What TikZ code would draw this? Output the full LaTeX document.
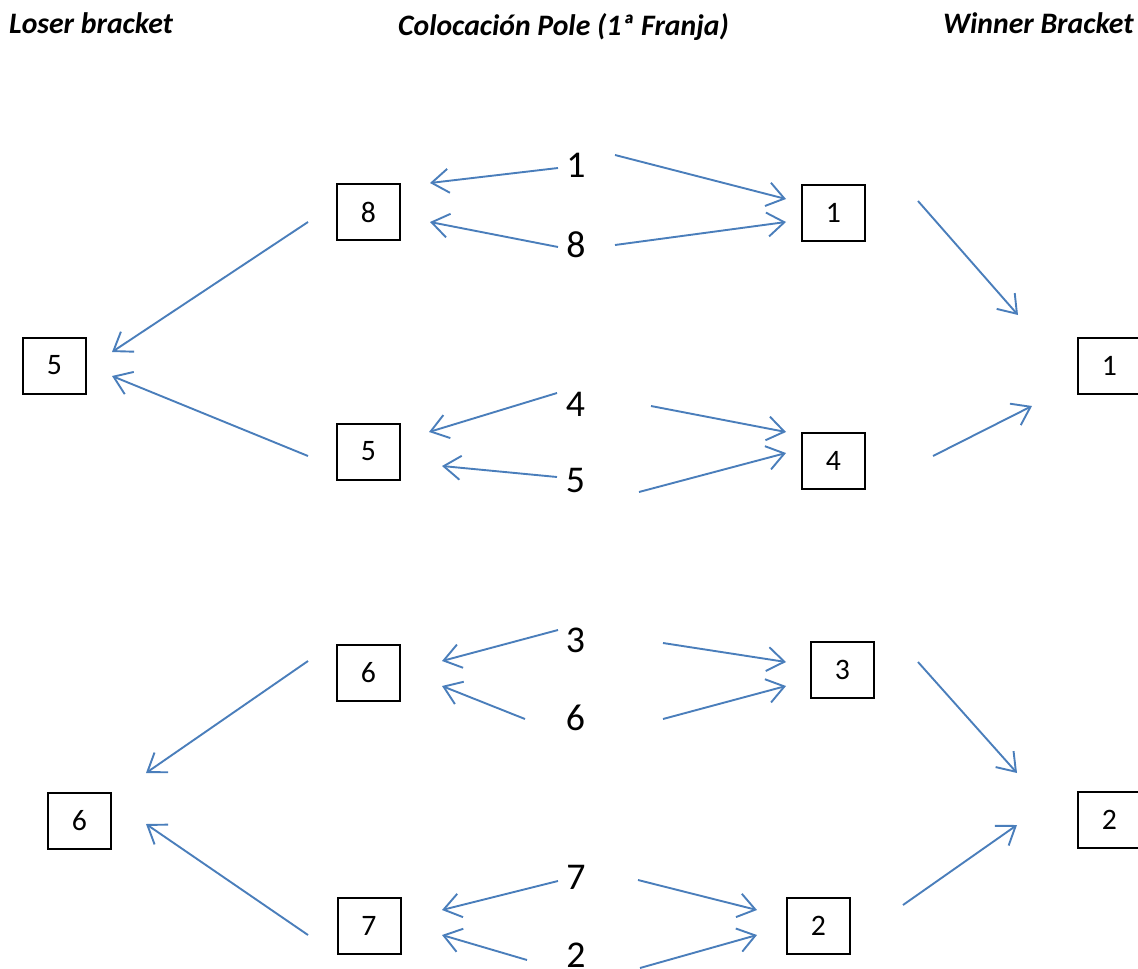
\documentclass[tikz,border=0pt]{standalone}
\usepackage{fontspec}
\setmainfont{Carlito}
\usetikzlibrary{arrows.meta}
\definecolor{arrowblue}{HTML}{4A7EBB}
\begin{document}
\begin{tikzpicture}[x=1pt,y=-1pt,
  title/.style={anchor=base west,inner sep=0,font=\fontsize{29.7}{34}\selectfont\bfseries\itshape},
  numbox/.style={draw=black,line width=2pt,minimum width=63pt,minimum height=56pt,inner sep=0,font=\fontsize{29.7}{34}\selectfont},
  freenum/.style={inner sep=0,font=\fontsize{37.8}{44}\selectfont},
  arr/.style={draw=arrowblue,line width=1.9pt,-{Straight Barb[length=17pt,width=24pt,line width=1.9pt]}}]
\useasboundingbox (0,0) rectangle (1138,969);
% titles
\node[title] (tl) at (9,34) {Loser bracket};
\node[title] (tm) at (398,35) {Colocación Pole (1ª Franja)};
\node[title] (tr) at (943,34) {Winner Bracket};
% boxes
\node[numbox] (b8) at (368.5,212) {8};
\node[numbox] (b1) at (833.5,212.5) {1};
\node[numbox] (b5) at (368.5,451.5) {5};
\node[numbox] (b4) at (833.5,460.5) {4};
\node[numbox] (b6) at (368.5,673) {6};
\node[numbox] (b3) at (842.5,670) {3};
\node[numbox] (b7) at (369,926) {7};
\node[numbox] (b2) at (818.5,926) {2};
\node[numbox] (l5) at (54.5,365.5) {5};
\node[numbox] (l6) at (79.5,820.5) {6};
\node[numbox] (w1) at (1109.5,366) {1};
\node[numbox] (w2) at (1109.5,820) {2};
% free numbers
\node[freenum] (n1) at (576,165) {1};
\node[freenum] (n8) at (576,244.5) {8};
\node[freenum] (n4) at (575.5,404.5) {4};
\node[freenum] (n5) at (575.5,480.5) {5};
\node[freenum] (n3) at (575.5,640) {3};
\node[freenum] (n6) at (575.5,718) {6};
\node[freenum] (n7) at (576,877) {7};
\node[freenum] (n2) at (576,955) {2};
% arrow end points
\coordinate (a1s) at (558,168);   \coordinate (a1e) at (430,183);
\coordinate (a2s) at (558,247);   \coordinate (a2e) at (430,222);
\coordinate (a3s) at (615,155);   \coordinate (a3e) at (786,199);
\coordinate (a4s) at (615,245);   \coordinate (a4e) at (786,222);
\coordinate (a5s) at (918,201);   \coordinate (a5e) at (1018,315);
\coordinate (a6s) at (308,222);   \coordinate (a6e) at (112,352);
\coordinate (b1s) at (557,393);   \coordinate (b1e) at (429,432);
\coordinate (b2s) at (557,477);   \coordinate (b2e) at (442,466);
\coordinate (b3s) at (651,406);   \coordinate (b3e) at (786,432);
\coordinate (b4s) at (639,492);   \coordinate (b4e) at (786,453);
\coordinate (b5s) at (933,456);   \coordinate (b5e) at (1032,406);
\coordinate (b6s) at (308,456);   \coordinate (b6e) at (112,376);
\coordinate (c1s) at (558,630);   \coordinate (c1e) at (442,661);
\coordinate (c2s) at (525,719);   \coordinate (c2e) at (442,686);
\coordinate (c3s) at (663,643);   \coordinate (c3e) at (786,662);
\coordinate (c4s) at (663,719);   \coordinate (c4e) at (786,686);
\coordinate (c5s) at (918,662);   \coordinate (c5e) at (1017,773);
\coordinate (c6s) at (308,661);   \coordinate (c6e) at (146,773);
\coordinate (d1s) at (558,881);   \coordinate (d1e) at (442,910);
\coordinate (d2s) at (527,960);   \coordinate (d2e) at (442,935);
\coordinate (d3s) at (638,880);   \coordinate (d3e) at (757,910);
\coordinate (d4s) at (640,968);   \coordinate (d4e) at (757,935);
\coordinate (d5s) at (903,905);   \coordinate (d5e) at (1017,825);
\coordinate (d6s) at (308,935);   \coordinate (d6e) at (146,824);
% arrows
\foreach \p in {a,b,c,d}{
  \foreach \i in {1,...,6}{
    \draw[arr] (\p\i s) -- (\p\i e);
  }
}
\end{tikzpicture}
\end{document}
